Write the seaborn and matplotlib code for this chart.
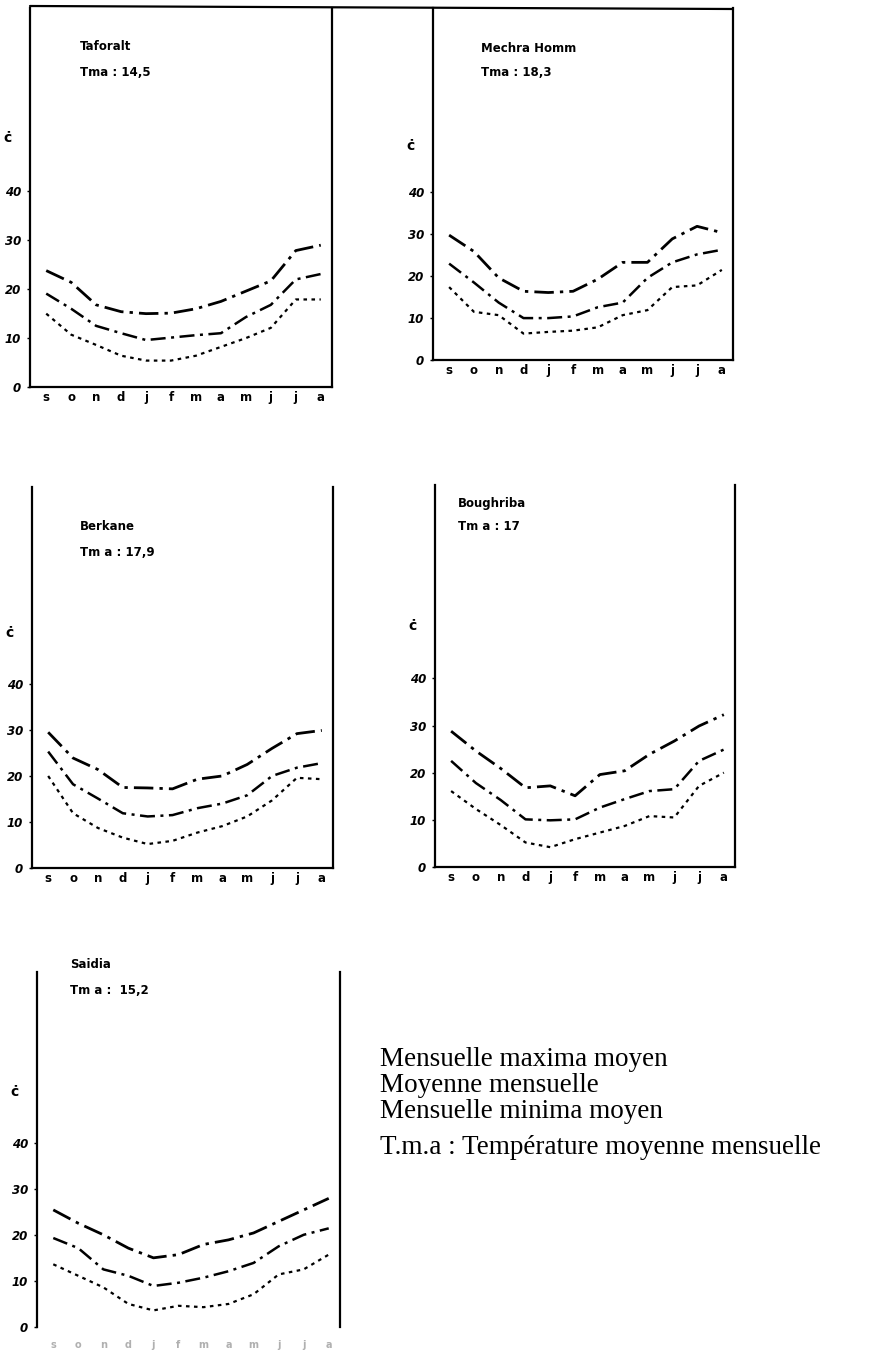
import matplotlib
matplotlib.use("Agg")
import matplotlib.pyplot as plt
import seaborn as sns
import pandas as pd
from matplotlib.lines import Line2D
from matplotlib.transforms import blended_transform_factory

# Month initials, September to August
months = ["s", "o", "n", "d", "j", "f", "m", "a", "m", "j", "j", "a"]

stations = ["Taforalt", "Mechra Homm", "Berkane", "Boughriba", "Saidia"]
tma_labels = ["Tma : 14,5", "Tma : 18,3", "Tm a : 17,9", "Tm a : 17", "Tm a :  15,2"]
y_ticks = [0, 10, 20, 30, 40]

# Monthly temperatures (°C): mean maxima, monthly mean, mean minima
taforalt_max = [23.8, 21.4, 16.8, 15.4, 15.0, 15.1, 16.0, 17.5, 19.6, 21.7, 27.9, 29.0]
taforalt_mean = [19.1, 16.0, 12.5, 11.0, 9.6, 10.1, 10.6, 11.0, 14.3, 16.8, 22.0, 23.1]
taforalt_min = [15.0, 10.7, 8.6, 6.4, 5.4, 5.4, 6.4, 8.2, 10.0, 12.1, 17.9, 17.9]

mechra_max = [29.8, 25.9, 19.6, 16.4, 16.1, 16.4, 19.3, 23.3, 23.3, 28.9, 31.9, 30.4]
mechra_mean = [23.0, 18.5, 13.7, 10.0, 10.0, 10.4, 12.6, 13.7, 19.6, 23.3, 25.2, 26.3]
mechra_min = [17.4, 11.5, 10.7, 6.3, 6.7, 7.0, 7.8, 10.7, 11.9, 17.4, 17.8, 21.5]

berkane_max = [29.5, 23.9, 21.4, 17.5, 17.4, 17.2, 19.3, 20.0, 22.5, 26.0, 29.2, 29.9]
berkane_mean = [25.3, 18.2, 15.1, 11.9, 11.2, 11.5, 13.0, 14.0, 15.8, 20.0, 21.8, 22.8]
berkane_min = [20.0, 11.9, 8.7, 6.6, 5.2, 5.9, 7.7, 9.1, 11.2, 14.7, 19.6, 19.3]

boughriba_max = [28.8, 24.6, 20.9, 16.8, 17.2, 15.1, 19.6, 20.4, 23.9, 26.7, 29.9, 32.3]
boughriba_mean = [22.5, 17.8, 14.2, 10.1, 9.9, 10.1, 12.6, 14.4, 16.1, 16.5, 22.5, 24.9]
boughriba_min = [16.1, 12.3, 8.9, 5.2, 4.2, 5.9, 7.3, 8.7, 10.8, 10.5, 17.2, 20.0]

saidia_max = [25.4, 22.5, 20.0, 17.1, 15.0, 15.7, 17.9, 18.9, 20.4, 22.9, 25.4, 27.9]
saidia_mean = [19.3, 17.1, 12.5, 11.1, 8.9, 9.6, 10.7, 12.1, 13.9, 17.5, 20.0, 21.4]
saidia_min = [13.6, 11.1, 8.6, 5.0, 3.6, 4.6, 4.3, 5.0, 7.1, 11.4, 12.5, 15.7]

legend_lines = ["Mensuelle maxima moyen", "Moyenne mensuelle", "Mensuelle minima moyen"]
legend_note = "T.m.a : Température moyenne mensuelle"

series = {
    "Taforalt": (taforalt_max, taforalt_mean, taforalt_min),
    "Mechra Homm": (mechra_max, mechra_mean, mechra_min),
    "Berkane": (berkane_max, berkane_mean, berkane_min),
    "Boughriba": (boughriba_max, boughriba_mean, boughriba_min),
    "Saidia": (saidia_max, saidia_mean, saidia_min),
}

sns.set_style("white")
plt.rcParams["font.family"] = ["DejaVu Sans"]
plt.rcParams["text.color"] = "black"
plt.rcParams["xtick.color"] = "black"
plt.rcParams["ytick.color"] = "black"
plt.rcParams["axes.labelcolor"] = "black"

W, H = 873, 1351
fig = plt.figure(figsize=(W / 100, H / 100), dpi=100)
fig.patch.set_facecolor("white")

# panel frames in pixels: left, top, right, bottom, y upper limit, spines shown
panels = [
    (30, 8, 332, 387, 77.5, ("left", "right", "bottom")),
    (433, 8, 733, 360, 84.0, ("left", "right", "bottom")),
    (32, 487, 333, 868, 82.8, ("left", "right", "bottom")),
    (435, 485, 735, 867, 81.0, ("left", "right", "bottom")),
    (37, 972, 340, 1327, 77.0, ("left", "right")),
]
title_pos = [(80, 46, 72), (481, 48, 72), (80, 527, 553), (458, 503, 527), (70, 965, 990)]

styles = [
    dict(linestyle=(0, (7, 2.2, 1.2, 2.2)), linewidth=2.0),
    dict(linestyle=(0, (6, 2.2, 1.2, 2.2)), linewidth=1.8),
    dict(linestyle=(0, (1.6, 2.0)), linewidth=1.6),
]

x = list(range(12))
for i, (name, (l, t, r, b, ytop, shown)) in enumerate(zip(stations, panels)):
    ax = fig.add_axes([l / W, 1 - b / H, (r - l) / W, (b - t) / H])
    ax.set_facecolor("none")
    for k, vals in enumerate(series[name]):
        df = pd.DataFrame({"mois": x, "temp": vals})
        sns.lineplot(data=df, x="mois", y="temp", ax=ax, color="black",
                     legend=False, **styles[k])
    ax.set_xlim(-0.65, 11.45)
    ax.set_ylim(0, ytop)
    for sp in ["left", "right", "bottom", "top"]:
        ax.spines[sp].set_visible(sp in shown)
        ax.spines[sp].set_color("black")
        ax.spines[sp].set_linewidth(1.6)
    ax.set_xlabel("")
    ax.set_ylabel("")
    ax.set_yticks(y_ticks)
    ax.set_yticklabels([str(v) for v in y_ticks], fontsize=8.5, fontweight="bold",
                       fontstyle="italic")
    ax.tick_params(axis="y", length=2.5, width=1, pad=4, left=True)
    ax.set_xticks(x)
    if "bottom" in shown:
        ax.set_xticklabels(months, fontsize=8.5, fontweight="bold")
        ax.tick_params(axis="x", length=0, pad=3)
    else:
        ax.set_xticklabels(months, fontsize=7, fontweight="bold", color="#b0b0b0")
        ax.tick_params(axis="x", length=0, pad=9)
    # degree label above the scale
    tr = blended_transform_factory(ax.transAxes, ax.transData)
    ax.text(-0.06, 51, "ċ", transform=tr, ha="right", va="center",
            fontsize=10, fontweight="bold")
    tx, ty1, ty2 = title_pos[i]
    fig.text(tx / W, 1 - ty1 / H, name, fontsize=8.5, fontweight="bold",
             va="center", ha="left")
    fig.text(tx / W, 1 - ty2 / H, tma_labels[i], fontsize=8.5, fontweight="bold",
             va="center", ha="left")

# top border shared by the first two panels
fig.add_artist(Line2D([30 / W, 733 / W], [1 - 6 / H, 1 - 9 / H],
                      color="black", linewidth=1.6))

# explanatory text
for j, txt in enumerate(legend_lines):
    fig.text(380 / W, 1 - (1060 + 26 * j) / H, txt, fontsize=19.5,
             family=["Liberation Serif"], va="center", ha="left")
fig.text(380 / W, 1 - 1148 / H, legend_note, fontsize=19.5,
         family=["Liberation Serif"], va="center", ha="left")

fig.savefig("out.png", dpi=100, facecolor="white")
